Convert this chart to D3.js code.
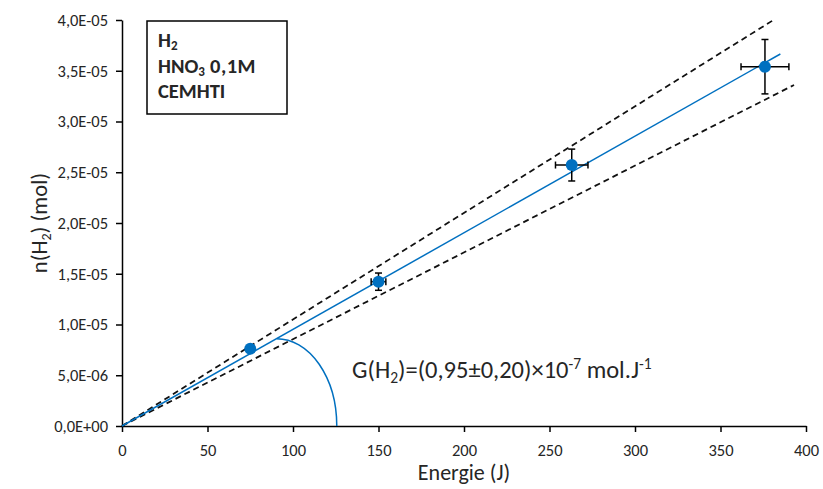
<!DOCTYPE html>
<html><head><meta charset="utf-8">
<script src="https://cdn.jsdelivr.net/npm/d3@7"></script>
<style>body{margin:0;background:#fff} text{font-family:Carlito, Lato, sans-serif; fill:#262626}</style>
</head><body><svg id="c" width="823" height="489"></svg>
<script>
// ---- data ----
const energy    = [75, 150, 263, 376];          // J
const energyErr = [2, 4.3, 9.5, 14];            // J
const moles     = [7.6e-6, 1.422e-5, 2.571e-5, 3.54e-5]; // mol
const molesErr  = [0.3e-6, 0.85e-6, 1.57e-6, 2.68e-6];   // mol
const fitLine   = [[0, 0], [385, 3.665e-5]];
const upperLine = [[0, 0], [381, 4.0e-5]];
const lowerLine = [[0, 0], [393, 3.36e-5]];
const arcStart  = [90.5, 8.6e-6];   // on the fit line
const arcEnd    = [125.6, 0];       // on the x axis
const xTicks = [0, 50, 100, 150, 200, 250, 300, 350, 400];
const yTicks = [0, 5e-6, 1e-5, 1.5e-5, 2e-5, 2.5e-5, 3e-5, 3.5e-5, 4e-5];
const yTickLabels = ["0,0E+00","5,0E-06","1,0E-05","1,5E-05","2,0E-05","2,5E-05","3,0E-05","3,5E-05","4,0E-05"];

const svg = d3.select("#c");
const x = d3.scaleLinear().domain([0, 400]).range([122, 806]);
const y = d3.scaleLinear().domain([0, 4e-5]).range([426, 20]);
const blue = "#0070C0";

// axes
const ax = svg.append("g").attr("transform", `translate(0,${y(0)})`)
  .call(d3.axisBottom(x).tickValues(xTicks).tickSize(6).tickSizeOuter(0).tickPadding(12));
const ay = svg.append("g").attr("transform", `translate(${x(0)},0)`)
  .call(d3.axisLeft(y).tickValues(yTicks).tickFormat((d, i) => yTickLabels[i]).tickSize(6).tickSizeOuter(0).tickPadding(8));
[ax, ay].forEach(g => {
  g.select(".domain").attr("stroke", "#000").attr("stroke-width", 1.5);
  g.selectAll(".tick line").attr("stroke", "#000").attr("stroke-width", 1.5);
  g.selectAll(".tick text").attr("font-size", 16.5).attr("font-family", "Carlito, Lato, sans-serif").attr("fill", "#262626");
});

// dashed confidence lines
const line = d3.line().x(d => x(d[0])).y(d => y(d[1]));
[upperLine, lowerLine].forEach(l => svg.append("path").attr("d", line(l))
  .attr("fill", "none").attr("stroke", "#111").attr("stroke-width", 1.75).attr("stroke-dasharray", "6,4"));

// fit line
svg.append("path").attr("d", line(fitLine)).attr("fill", "none").attr("stroke", blue).attr("stroke-width", 1.5);

// angle arc
const rx = x(arcEnd[0]) - x(arcStart[0]), ry = y(0) - y(arcStart[1]);
svg.append("path")
  .attr("d", `M${x(arcStart[0])},${y(arcStart[1])} A${rx},${ry} 0 0 1 ${x(arcEnd[0])},${y(arcEnd[1])}`)
  .attr("fill", "none").attr("stroke", blue).attr("stroke-width", 1.5);

// error bars
const pts = energy.map((e, i) => ({e, n: moles[i], ex: energyErr[i], ny: molesErr[i]}));
const eb = svg.append("g").attr("stroke", "#000").attr("stroke-width", 1.5);
pts.forEach(p => {
  eb.append("line").attr("x1", x(p.e - p.ex)).attr("x2", x(p.e + p.ex)).attr("y1", y(p.n)).attr("y2", y(p.n));
  eb.append("line").attr("x1", x(p.e)).attr("x2", x(p.e)).attr("y1", y(p.n - p.ny)).attr("y2", y(p.n + p.ny));
  [p.e - p.ex, p.e + p.ex].forEach(v => eb.append("line").attr("x1", x(v)).attr("x2", x(v)).attr("y1", y(p.n) - 3.5).attr("y2", y(p.n) + 3.5));
  [p.n - p.ny, p.n + p.ny].forEach(v => eb.append("line").attr("x1", x(p.e) - 3.5).attr("x2", x(p.e) + 3.5).attr("y1", y(v)).attr("y2", y(v)));
});
svg.append("g").selectAll("circle").data(pts).join("circle")
  .attr("cx", d => x(d.e)).attr("cy", d => y(d.n)).attr("r", 6).attr("fill", blue);

// axis titles
svg.append("text").attr("x", (x(0) + x(400)) / 2).attr("y", 480).attr("text-anchor", "middle")
  .attr("font-size", 22).text("Energie (J)");
const yt = svg.append("text").attr("transform", `translate(47,${(y(0) + y(4e-5)) / 2}) rotate(-90)`)
  .attr("text-anchor", "middle").attr("font-size", 22.5);
yt.append("tspan").text("n(H");
yt.append("tspan").attr("font-size", 14).attr("dy", 4).text("2");
yt.append("tspan").attr("dy", -4).text(") (mol)");

// annotation
const an = svg.append("text").attr("x", 352).attr("y", 378).attr("font-size", 24.5);
an.append("tspan").text("G(H");
an.append("tspan").attr("font-size", 15.5).attr("dy", 5).text("2");
an.append("tspan").attr("dy", -5).text(")=(0,95±0,20)×10");
an.append("tspan").attr("font-size", 15.5).attr("dy", -9).text("-7");
an.append("tspan").attr("dy", 9).text(" mol.J");
an.append("tspan").attr("font-size", 15.5).attr("dy", -9).text("-1");

// legend box
svg.append("rect").attr("x", 147).attr("y", 21).attr("width", 140).attr("height", 93)
  .attr("fill", "#fff").attr("stroke", "#000").attr("stroke-width", 1.5);
const lg = svg.append("g").attr("font-weight", "bold").attr("font-size", 20.5);
const l1 = lg.append("text").attr("x", 158).attr("y", 47);
l1.append("tspan").text("H"); l1.append("tspan").attr("font-size", 13).attr("dy", 3).text("2");
const l2 = lg.append("text").attr("x", 158).attr("y", 73);
l2.append("tspan").text("HNO"); l2.append("tspan").attr("font-size", 13).attr("dy", 3).text("3");
l2.append("tspan").attr("dy", -3).attr("letter-spacing", 0.5).text(" 0,1M");
lg.append("text").attr("x", 158).attr("y", 98).text("CEMHTI");
</script></body></html>
